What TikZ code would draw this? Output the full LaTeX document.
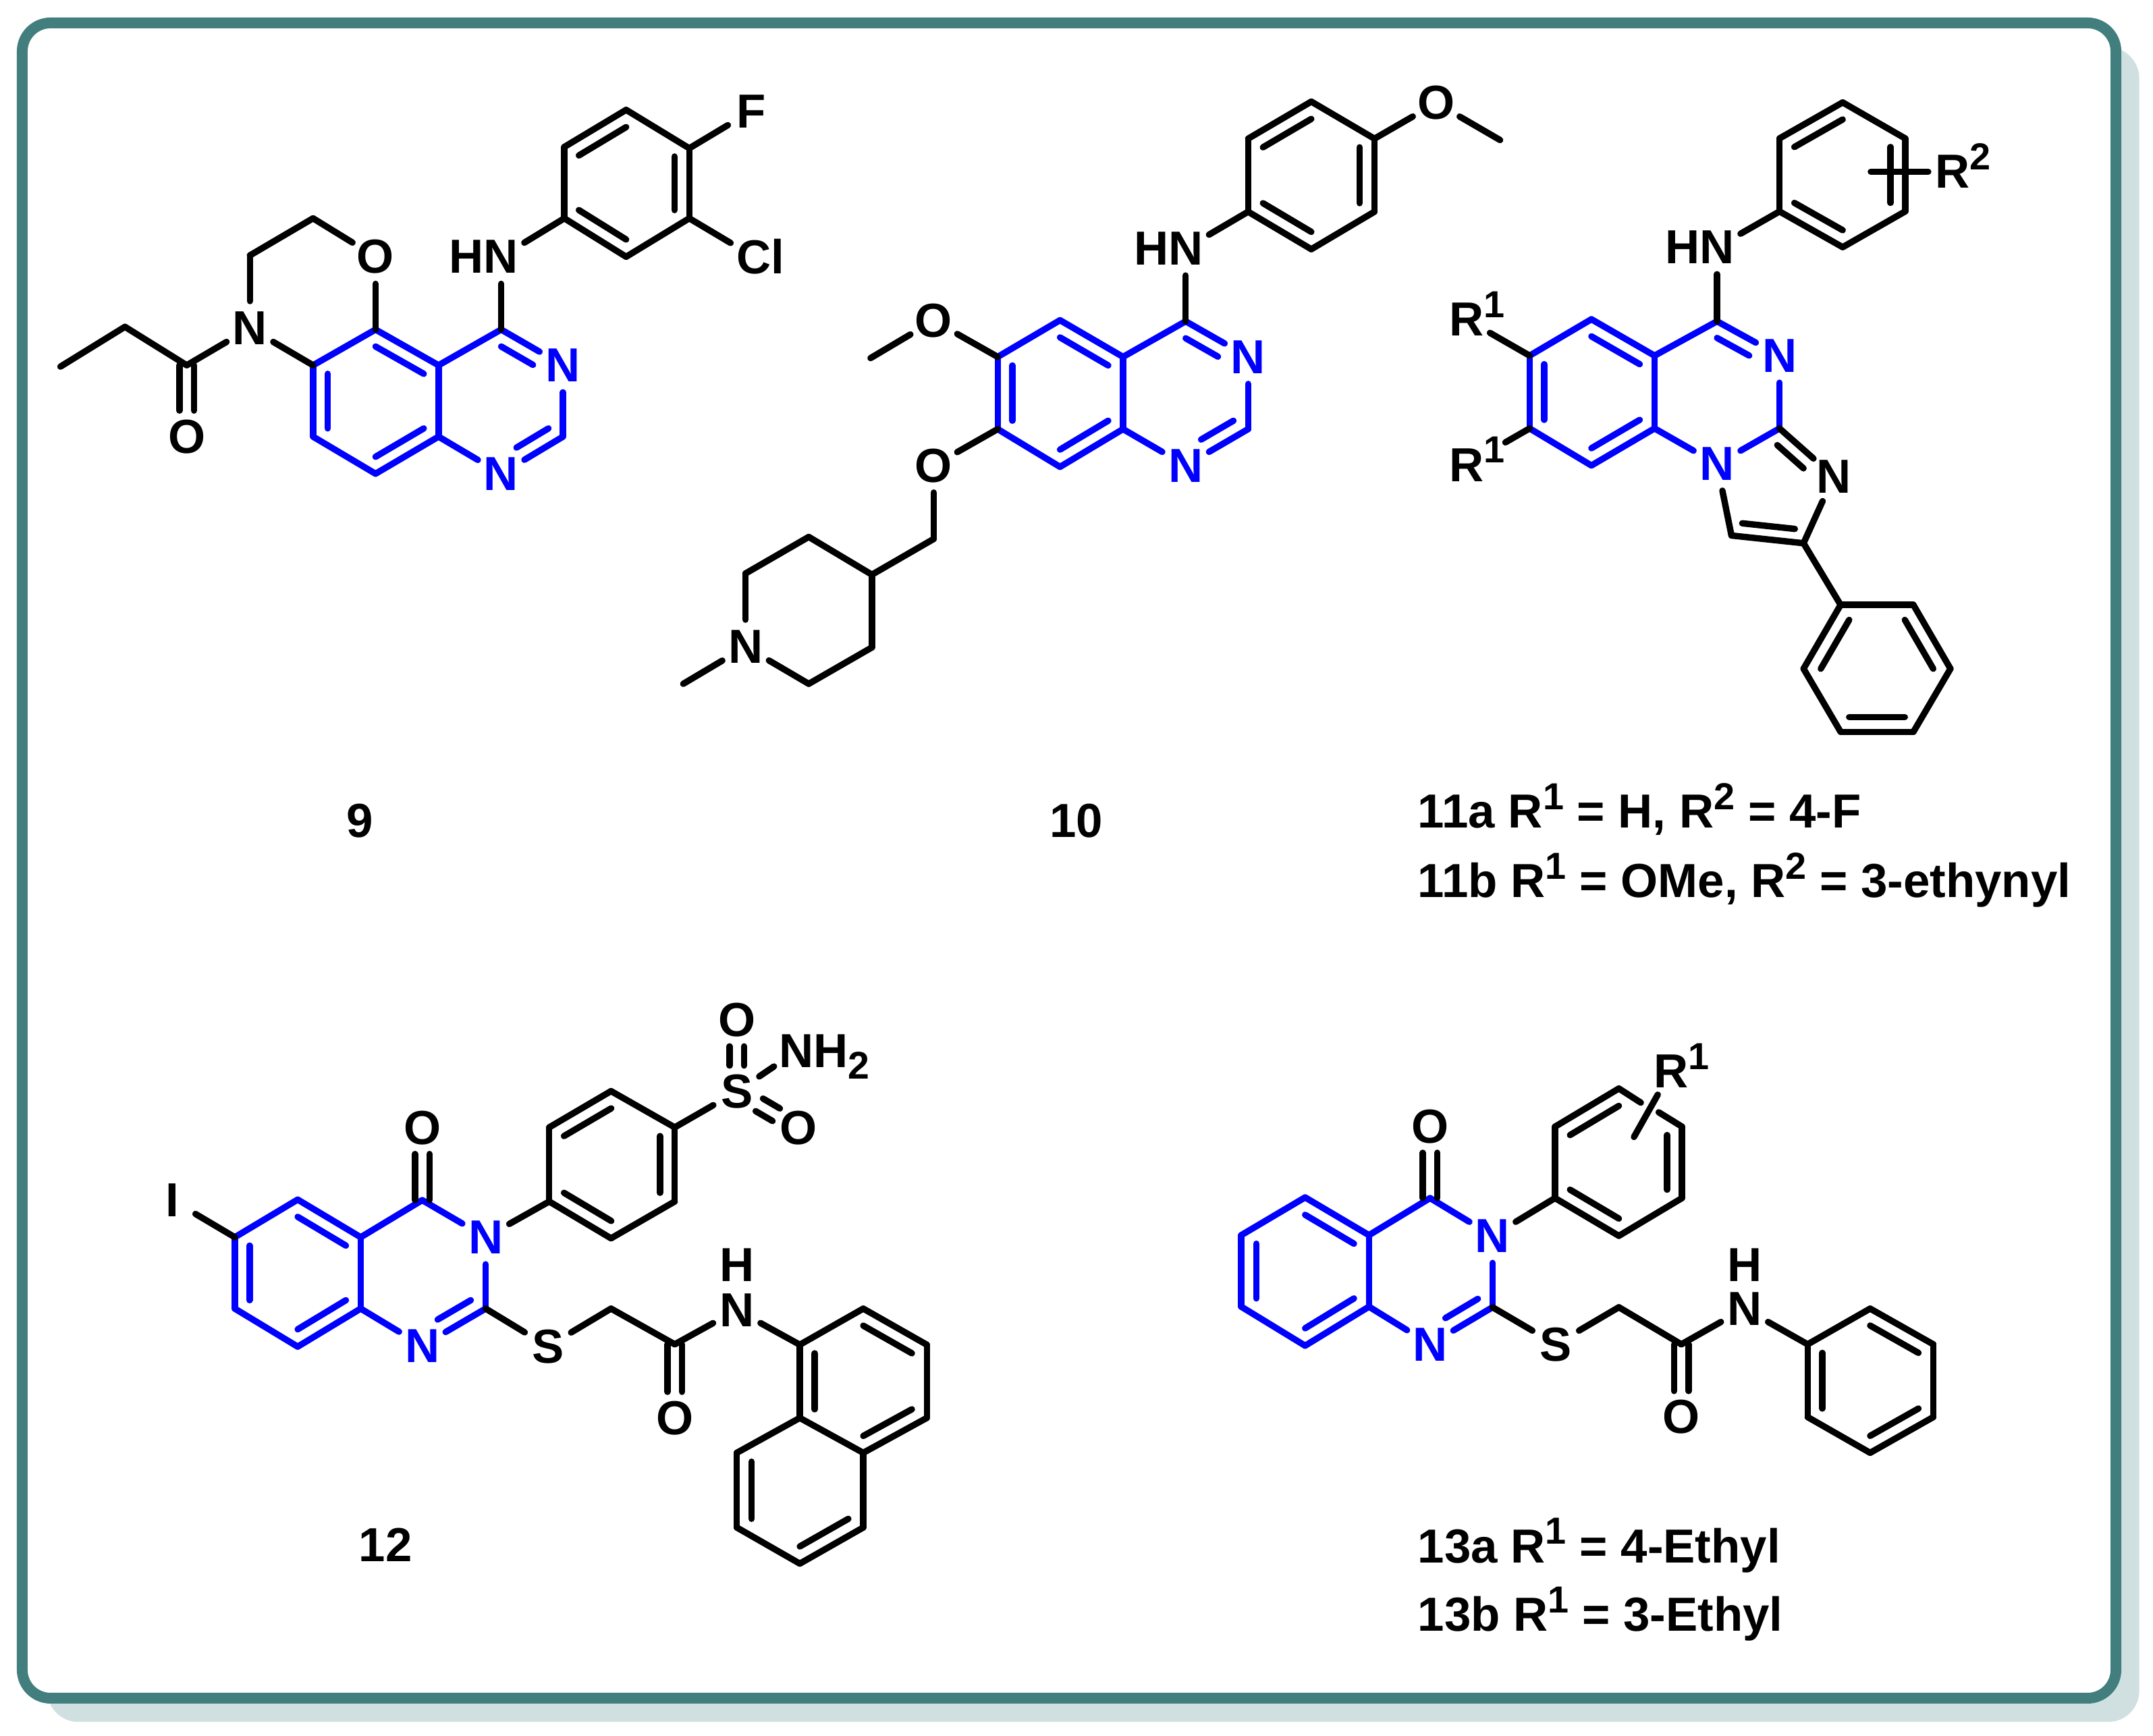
\documentclass[tikz,border=0pt]{standalone}
\usepackage{fontspec}
\setmainfont{Liberation Sans}
\usetikzlibrary{calc}
\definecolor{tealframe}{RGB}{66,126,126}
\definecolor{tealshadow}{RGB}{208,224,224}
\definecolor{corebl}{RGB}{0,0,255}
\newcommand\supone[1]{\raisebox{3.8pt}{\fontsize{7.8}{8}\selectfont\bfseries #1}}
\newcommand\Rsup[1]{R\rlap{\smash{\supone{#1}}}}
\newcommand\inb[4][]{\draw[#1] ($(#2)!.235!(#4)$) -- ($(#3)!.235!(#4)$);}
\newcommand\inp[4][]{\draw[#1] ($(#2)!.27!(#4)$) -- ($(#3)!.27!(#4)$);}
\newcommand\dbo[3][]{\draw[#1] ($(#2)!.053cm!90:(#3)$) -- ($(#3)!.053cm!-90:(#2)$);
  \draw[#1] ($(#2)!.053cm!-90:(#3)$) -- ($(#3)!.053cm!90:(#2)$);}
\tikzset{
  bk/.style={line width=1.32pt,line cap=round,line join=round,draw=black},
  bb/.style={line width=1.32pt,line cap=round,line join=round,draw=corebl},
  atom/.style={circle,inner sep=0pt,minimum size=.38cm,font=\fontsize{9.9}{10}\selectfont\bfseries,text=black},
  atomb/.style={atom,text=corebl},
  lbl/.style={inner sep=0pt,font=\fontsize{9.9}{10}\selectfont\bfseries,text=black,anchor=base west},
  lblc/.style={lbl,anchor=base},
  endn/.style={shorten >=.13cm},
  both/.style={shorten >=.19cm,shorten <=.19cm},
  toat/.style={shorten >=.19cm}
}
\begin{document}
\begin{tikzpicture}[x=.01cm,y=-.01cm]
\useasboundingbox (0,0) rectangle (1568,1264);
\fill[tealshadow,rounded corners=.226cm] (34.4,34.4) rectangle (1558,1254);
\draw[tealframe,fill=white,line width=.0786cm,rounded corners=.206cm] (16.2,16.7) rectangle (1541,1236.7);

% ---------- 9
\foreach \n/\x/\y in {A1/228/266,A2/273.5/240,A3/319.4/266,A4/319.4/318,A5/273.5/345,A6/228/318,A7/365/240,A8/410/318,
 Ac/273.5/292.5,Ap/365/292.5,A10/182/186,A11/228/159,A12/136/266,A13/91/238,A14/44/267,
 P1/411/159,P2/411/107,P3/456/80,P4/502/108,P5/502/159,P6/456/187,Pc/456/133.5}
 \coordinate (\n) at (\x,\y);
\node[atomb] (AN3) at (410,266) {N};
\node[atomb] (AN1) at (365,345) {N};
\node[atom] (AO) at (273.5,187) {O};
\node[atom] (AN) at (182,239) {N};
\node[atom] (AOk) at (136,318) {O};
\node[atom] (ANH) at (365,187) {\llap{H}N};
\node[atom] (AF) at (547,81) {F};
\node[atom] (ACl) at (549,187) {C\rlap{l}};
\foreach \a/\b in {A1/A2,A2/A3,A3/A4,A4/A5,A5/A6,A6/A1,A3/A7,A7/AN3,AN3/A8,A8/AN1,AN1/A4} \draw[bb] (\a) -- (\b);
\inb[bb]{A1}{A6}{Ac}\inb[bb]{A2}{A3}{Ac}\inb[bb]{A4}{A5}{Ac}
\inb[bb,endn]{A7}{AN3}{Ap}\inb[bb,endn]{A8}{AN1}{Ap}
\foreach \a/\b in {A2/AO,A7/ANH,A1/AN,AN/A10,A10/A11,A11/AO,AN/A12,A12/A13,A13/A14,ANH/P1,P1/P2,P2/P3,P3/P4,P4/P5,P5/P6,P6/P1,P4/AF,P5/ACl} \draw[bk] (\a) -- (\b);
\dbo[bk,toat]{A12}{AOk}
\inb[bk]{P2}{P3}{Pc}\inb[bk]{P4}{P5}{Pc}\inb[bk]{P6}{P1}{Pc}
\node[lblc] (L9) at (262,610) {9};

% ---------- 10
\foreach \n/\x/\y in {B1/726.6/259.9,B2/772/233.2,B3/817.9/259.9,B4/817.9/312.5,B5/772/340,B6/726.6/312.5,B7/863.5/234,B8/909/312.5,
 Bc/772/286.5,Bp/863.5/286.5,Q1/909/154.2,Q2/909/101,Q3/955/74,Q4/1001/101,Q5/1001/154.2,Q6/955/181.5,Qc/955/127.7,
 B9/1092.5/102,B10/634/260.8,B11/680/392.5,B12/635/418.5,B13/589/391,B14/543/417.6,B15/589/498,B16/635/471.5,B17/497.6/498}
 \coordinate (\n) at (\x,\y);
\node[atomb] (BN3) at (909,259.9) {N};
\node[atomb] (BN1) at (863.5,339) {N};
\node[atom] (BNH) at (863.5,180.9) {\llap{H}N};
\node[atom] (BOa) at (1046,75) {O};
\node[atom] (BOb) at (680,233.5) {O};
\node[atom] (BOc) at (680,339) {O};
\node[atom] (BN) at (543,471) {N};
\foreach \a/\b in {B1/B2,B2/B3,B3/B4,B4/B5,B5/B6,B6/B1,B3/B7,B7/BN3,BN3/B8,B8/BN1,BN1/B4} \draw[bb] (\a) -- (\b);
\inb[bb]{B1}{B6}{Bc}\inb[bb]{B2}{B3}{Bc}\inb[bb]{B4}{B5}{Bc}
\inb[bb,endn]{B7}{BN3}{Bp}\inb[bb,endn]{B8}{BN1}{Bp}
\foreach \a/\b in {B7/BNH,BNH/Q1,Q1/Q2,Q2/Q3,Q3/Q4,Q4/Q5,Q5/Q6,Q6/Q1,Q4/BOa,BOa/B9,B1/BOb,BOb/B10,B6/BOc,BOc/B11,B11/B12,B12/B13,B13/B14,B14/BN,BN/B15,B15/B16,B16/B12,BN/B17} \draw[bk] (\a) -- (\b);
\inb[bk]{Q2}{Q3}{Qc}\inb[bk]{Q4}{Q5}{Qc}\inb[bk]{Q6}{Q1}{Qc}
\node[lblc] (L10) at (784,610) {10};

% ---------- 11
\foreach \n/\x/\y in {C1/1114/259,C2/1159/232.5,C3/1205/259,C4/1205/312,C5/1159/339,C6/1114/312,C7/1250.5/234,C8/1296/312,
 Cc/1159/285.5,Cp/1250.5/285.5,Ci/1290/357,C9/1313.5/395.6,C10/1261/390,
 R1/1296/154,R2/1296/100.8,R3/1342/74.6,R4/1387.5/100.8,R5/1387.5/154,R6/1342/180,Rc/1342/127.4,Cx/1362.5/125,
 S1/1340.5/440.5,S2/1393.5/440.5,S3/1420.5/487,S4/1393.5/533,S5/1340.5/533,S6/1313.5/487,Sc/1367/487}
 \coordinate (\n) at (\x,\y);
\node[atomb] (CN3) at (1296,259) {N};
\node[atomb] (CN1) at (1250.5,338) {N};
\node[atom] (CNi) at (1335.5,347) {N};
\node[atom] (CNH) at (1250.5,180) {\llap{H}N};
\node[atom] (CRa) at (1068,232.6) {\Rsup{1}};
\node[atom] (CRb) at (1068,338.5) {\Rsup{1}};
\node[atom] (CRc) at (1422,125) {\Rsup{2}};
\foreach \a/\b in {C1/C2,C2/C3,C3/C4,C4/C5,C5/C6,C6/C1,C3/C7,C7/CN3,CN3/C8,C8/CN1,CN1/C4} \draw[bb] (\a) -- (\b);
\inb[bb]{C1}{C6}{Cc}\inb[bb]{C2}{C3}{Cc}\inb[bb]{C4}{C5}{Cc}
\inb[bb,endn]{C7}{CN3}{Cp}
\foreach \a/\b in {C7/CNH,CNH/R1,R1/R2,R2/R3,R3/R4,R4/R5,R5/R6,R6/R1,C8/CNi,CNi/C9,C9/C10,C10/CN1,C9/S1,S1/S2,S2/S3,S3/S4,S4/S5,S5/S6,S6/S1,CRa/C1} \draw[bk] (\a) -- (\b);
\draw[bk,shorten <=.13cm] (CRb) -- (C6);
\draw[bk,shorten <=-.02cm] (CRc) -- (Cx);
\inb[bk]{R2}{R3}{Rc}\inb[bk]{R4}{R5}{Rc}\inb[bk]{R6}{R1}{Rc}
\inb[bk]{S1}{S6}{Sc}\inb[bk]{S2}{S3}{Sc}\inb[bk]{S4}{S5}{Sc}
\inp[bk,endn]{C8}{CNi}{Ci}\inp[bk]{C10}{C9}{Ci}
\node[lbl] (L11a) at (1032,603) {11a R\supone{1} = H, R\supone{2} = 4-F};
\node[lbl] (L11b) at (1032,653.5) {11b R\supone{1} = OMe, R\supone{2} = 3-ethynyl};

% ---------- 12
\foreach \n/\x/\y in {D1/171/901,D2/216.8/873.6,D3/262.7/901,D4/262.7/953,D5/216.8/980.7,D6/171/953,D7/307.5/874,D8/353.7/953,
 Dc/216.8/927,Dp/307.5/927,T1/400/875,T2/400/821,T3/445/794.6,T4/491.4/821,T5/491.4/875,T6/445/901.8,Tc/445.7/848,
 D9/445/953,D10/491.4/979,U1/582.5/979.3,U2/628.7/953,U3/675/979.3,U4/675/1032.6,U5/628.7/1058,U6/582.5/1032.6,
 U7/536.6/1058,U8/536.6/1112.4,U9/582.5/1138.7,U10/628.7/1112.4,Ua/628.7/1005.8,Ub/582.5/1085.5}
 \coordinate (\n) at (\x,\y);
\node[atomb] (DN3) at (353.7,901) {N};
\node[atomb] (DN1) at (307.5,980) {N};
\node[atom] (DO) at (307.5,821.4) {O};
\node[atom] (DI) at (125.4,874) {I};
\node[atom] (DS) at (536.6,795) {S};
\node[atom] (DOa) at (536.6,743) {O};
\node[atom] (DOb) at (581.7,821.4) {O};
\node[atom] (DNH) at (580,765.6) {N\rlap{H\smash{\raisebox{-2.3pt}{\fontsize{8}{8}\selectfont\bfseries 2}}}};
\node[atom] (DSt) at (399,980.5) {S};
\node[atom] (DOk) at (491.4,1032.6) {O};
\node[atom] (DNa) at (536.6,954) {N};
\node[atom] (DH) at (536.6,921) {H};
\foreach \a/\b in {D1/D2,D2/D3,D3/D4,D4/D5,D5/D6,D6/D1,D3/D7,D7/DN3,DN3/D8,D8/DN1,DN1/D4} \draw[bb] (\a) -- (\b);
\inb[bb]{D1}{D6}{Dc}\inb[bb]{D2}{D3}{Dc}\inb[bb]{D4}{D5}{Dc}
\inb[bb,endn]{D8}{DN1}{Dp}
\foreach \a/\b in {D1/DI,DN3/T1,T1/T2,T2/T3,T3/T4,T4/T5,T5/T6,T6/T1,T4/DS,DS/DNH,D8/DSt,DSt/D9,D9/D10,D10/DNa,DNa/U1,U1/U2,U2/U3,U3/U4,U4/U5,U5/U6,U6/U1,U6/U7,U7/U8,U8/U9,U9/U10,U10/U5} \draw[bk] (\a) -- (\b);
\dbo[bk,toat]{D7}{DO}\dbo[bk,toat]{D10}{DOk}
\dbo[bk,both]{DS}{DOa}\dbo[bk,both]{DS}{DOb}
\inb[bk]{T2}{T3}{Tc}\inb[bk]{T4}{T5}{Tc}\inb[bk]{T6}{T1}{Tc}
\inb[bk]{U1}{U6}{Ua}\inb[bk]{U2}{U3}{Ua}\inb[bk]{U4}{U5}{Ua}
\inb[bk]{U7}{U8}{Ub}\inb[bk]{U9}{U10}{Ub}
\node[lblc] (L12) at (280.8,1137) {12};

% ---------- 13
\foreach \n/\x/\y in {E1/904/899.5,E2/950.5/872,E3/997/899.5,E4/997/951.6,E5/950.5/980,E6/904/951.6,E7/1041.5/872.5,E8/1087/952,
 Ec/950.5/926,Ep/1041.5/926,V1/1132.5/872.5,V2/1132.5/820.5,V3/1179/792.7,V4/1225/820.5,V5/1225/872.5,V6/1179/900,Vc/1179/846.5,
 Vg/1195/803,Vh/1208/810,Vr/1190/828,
 E9/1179/952,E10/1224.5/979,W1/1316.5/979,W2/1362/953,W3/1408/979,W4/1408/1032,W5/1362/1058,W6/1316.5/1032,Wc/1362/1005.5}
 \coordinate (\n) at (\x,\y);
\node[atomb] (EN3) at (1087,900) {N};
\node[atomb] (EN1) at (1041.5,979) {N};
\node[atom] (EO) at (1041.5,820.5) {O};
\node[atom] (ER) at (1217,780) {\Rsup{1}};
\node[atom] (ES) at (1133,979) {S};
\node[atom] (EOk) at (1224.5,1032) {O};
\node[atom] (EN) at (1270.5,953) {N};
\node[atom] (EH) at (1270.5,921) {H};
\foreach \a/\b in {E1/E2,E2/E3,E3/E4,E4/E5,E5/E6,E6/E1,E3/E7,E7/EN3,EN3/E8,E8/EN1,EN1/E4} \draw[bb] (\a) -- (\b);
\inb[bb]{E1}{E6}{Ec}\inb[bb]{E2}{E3}{Ec}\inb[bb]{E4}{E5}{Ec}
\inb[bb,endn]{E8}{EN1}{Ep}
\foreach \a/\b in {EN3/V1,V1/V2,V2/V3,V3/Vg,Vh/V4,V4/V5,V5/V6,V6/V1,ER/Vr,E8/ES,ES/E9,E9/E10,E10/EN,EN/W1,W1/W2,W2/W3,W3/W4,W4/W5,W5/W6,W6/W1} \draw[bk] (\a) -- (\b);
\dbo[bk,toat]{E7}{EO}\dbo[bk,toat]{E10}{EOk}
\inb[bk]{V2}{V3}{Vc}\inb[bk]{V4}{V5}{Vc}\inb[bk]{V6}{V1}{Vc}
\inb[bk]{W1}{W6}{Wc}\inb[bk]{W2}{W3}{Wc}\inb[bk]{W4}{W5}{Wc}
\node[lbl] (L13a) at (1032,1138) {13a R\supone{1} = 4-Ethyl};
\node[lbl] (L13b) at (1032,1188) {13b R\supone{1} = 3-Ethyl};
\end{tikzpicture}
\end{document}
